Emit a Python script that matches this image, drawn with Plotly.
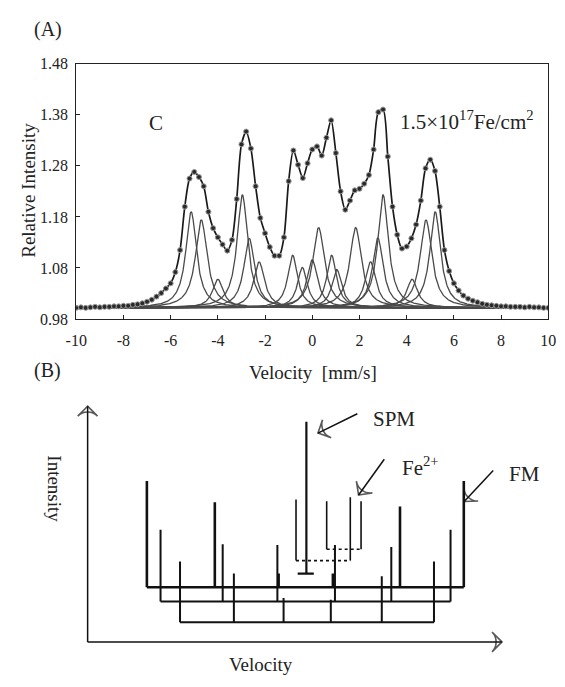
import numpy as np
import plotly.graph_objects as go

# ---------------- Panel (A) data ----------------
velocity = [round(-10 + 0.2 * i, 1) for i in range(101)]
rel_intensity = [
    1.002, 1.003, 1.002, 1.003, 1.004, 1.003, 1.004, 1.004, 1.005, 1.005,   # -10.0 .. -8.2
    1.006, 1.006, 1.008, 1.009, 1.011, 1.014, 1.018, 1.024, 1.031, 1.040,   # -8.0 .. -6.2
    1.050, 1.072, 1.115, 1.200, 1.255, 1.268, 1.258, 1.240, 1.190, 1.158,   # -6.0 .. -4.2
    1.140, 1.126, 1.114, 1.135, 1.215, 1.322, 1.347, 1.314, 1.240, 1.178,   # -4.0 .. -2.2
    1.148, 1.121, 1.104, 1.104, 1.140, 1.250, 1.310, 1.282, 1.256, 1.285,   # -2.0 .. -0.2
    1.312, 1.318, 1.300, 1.335, 1.369, 1.305, 1.230, 1.194, 1.212, 1.232,   # 0.0 .. 1.8
    1.235, 1.245, 1.262, 1.312, 1.385, 1.390, 1.298, 1.200, 1.145, 1.118,   # 2.0 .. 3.8
    1.122, 1.138, 1.165, 1.212, 1.275, 1.292, 1.270, 1.200, 1.115, 1.074,   # 4.0 .. 5.8
    1.050, 1.036, 1.026, 1.020, 1.016, 1.013, 1.010, 1.008, 1.007, 1.006,   # 6.0 .. 7.8
    1.005, 1.005, 1.004, 1.004, 1.004, 1.003, 1.004, 1.003, 1.003, 1.002,   # 8.0 .. 9.8
    1.002,                                                                  # 10.0
]

# Lorentzian sub-spectra: centre, height above baseline, FWHM
comp_center = [-5.13, -4.70, -4.00, -2.96, -2.67, -2.25, -0.83, -0.42, 0.00, 0.27,
               0.82, 1.04, 1.84, 2.47, 2.78, 3.00, 4.23, 4.82, 5.21]
comp_height = [0.188, 0.172, 0.056, 0.221, 0.136, 0.090, 0.103, 0.079, 0.094, 0.157,
               0.103, 0.075, 0.157, 0.090, 0.137, 0.221, 0.056, 0.172, 0.188]
comp_fwhm = [0.55, 0.60, 0.55, 0.55, 0.55, 0.55, 0.50, 0.50, 0.55, 0.60,
             0.50, 0.50, 0.60, 0.55, 0.55, 0.55, 0.55, 0.60, 0.55]
comp_baseline = 1.002

y_ticks = [0.98, 1.08, 1.18, 1.28, 1.38, 1.48]
x_ticks = [-10, -8, -6, -4, -2, 0, 2, 4, 6, 8, 10]

# ---------------- Panel (B) schematic data ----------------
# three ferromagnetic sextets: line positions, line tops, baseline level
fm_pos = [[14.3, 30.7, 46.1, 59.2, 75.4, 90.8],
          [17.6, 32.6, 45.8, 59.7, 73.3, 87.6],
          [22.3, 35.3, 47.3, 58.7, 71.0, 83.6]]
fm_top = [[68.3, 59.3, 29.0, 29.0, 57.5, 68.3],
          [47.6, 41.4, 41.1, 41.1, 40.3, 47.6],
          [34.1, 29.0, 18.6, 17.9, 27.9, 34.1]]
fm_base = [23.2, 17.1, 8.3]
fm_width = [2.6, 2.0, 2.0]
# Fe2+ doublets
dbl_pos = [[50.3, 63.4], [57.7, 66.0]]
dbl_top = [[60.4, 61.4], [59.7, 59.7]]
dbl_base = [34.5, 39.3]
# SPM singlet
spm_pos = 52.8
spm_top = 93.4
spm_base = 29.0
spm_bar = [50.7, 54.6]
# pointer arrows (tail -> head) and the two axis arrows of the schematic
arrow_tail_x = [65.1, 71.6, 97.9, 0, 0]
arrow_tail_y = [96.8, 77.5, 72.7, 0, 0]
arrow_head_x = [55.6, 65.4, 90.9, 0, 100]
arrow_head_y = [88.6, 62.3, 59.6, 100, 0]

fig = go.Figure()

# --- Panel A traces ---
vgrid = np.linspace(-10, 10, 1201)
for c, h, w in zip(comp_center, comp_height, comp_fwhm):
    hw = w / 2.0
    yv = comp_baseline + h / (1.0 + ((vgrid - c) / hw) ** 2)
    fig.add_trace(go.Scatter(x=vgrid, y=yv, mode="lines",
                             line=dict(color="#4a4a4a", width=1.3),
                             showlegend=False, hoverinfo="skip",
                             xaxis="x", yaxis="y"))

fig.add_trace(go.Scatter(x=velocity, y=rel_intensity, mode="lines",
                         line=dict(color="#1a1a1a", width=1.7, shape="spline", smoothing=0.8),
                         showlegend=False, xaxis="x", yaxis="y"))
fig.add_trace(go.Scatter(x=velocity, y=rel_intensity, mode="markers",
                         marker=dict(size=5, color="#2a2a2a",
                                     line=dict(color="#9a9a9a", width=1)),
                         showlegend=False, xaxis="x", yaxis="y"))

# --- Panel B traces ---
for pos, top, base, lw in zip(fm_pos, fm_top, fm_base, fm_width):
    xs, ys = [], []
    for p, t in zip(pos, top):
        xs += [p, p, None]
        ys += [base, t, None]
    xs += [pos[0], pos[-1]]
    ys += [base, base]
    fig.add_trace(go.Scatter(x=xs, y=ys, mode="lines",
                             line=dict(color="#111111", width=lw),
                             showlegend=False, hoverinfo="skip",
                             xaxis="x2", yaxis="y2"))

for pos, top, base in zip(dbl_pos, dbl_top, dbl_base):
    xs, ys = [], []
    for p, t in zip(pos, top):
        xs += [p, p, None]
        ys += [base, t, None]
    fig.add_trace(go.Scatter(x=xs, y=ys, mode="lines",
                             line=dict(color="#111111", width=1.6),
                             showlegend=False, hoverinfo="skip",
                             xaxis="x2", yaxis="y2"))
    fig.add_trace(go.Scatter(x=[pos[0], pos[1]], y=[base, base], mode="lines",
                             line=dict(color="#111111", width=1.6, dash="dot"),
                             showlegend=False, hoverinfo="skip",
                             xaxis="x2", yaxis="y2"))

fig.add_trace(go.Scatter(x=[spm_pos, spm_pos, None, spm_bar[0], spm_bar[1]],
                         y=[spm_base, spm_top, None, spm_base, spm_base],
                         mode="lines", line=dict(color="#111111", width=2.2),
                         showlegend=False, hoverinfo="skip",
                         xaxis="x2", yaxis="y2"))

for tx, ty, hx, hy in zip(arrow_tail_x, arrow_tail_y, arrow_head_x, arrow_head_y):
    fig.add_trace(go.Scatter(x=[tx, hx], y=[ty, hy], mode="lines+markers",
                             line=dict(color="#111111", width=1.5),
                             marker=dict(symbol="arrow-wide-open", size=[0, 14],
                                         angleref="previous", color="#111111",
                                         line=dict(color="#111111", width=1.6)),
                             cliponaxis=False, showlegend=False, hoverinfo="skip",
                             xaxis="x2", yaxis="y2"))

serif = "Liberation Serif, Times New Roman, serif"
W, H = 565.0, 687.0


def px(x):
    return x / W


def py(y):
    return 1 - y / H


def label(text, x, y, size, ref=("paper", "paper"), angle=0):
    return dict(text=text, x=x, y=y, xref=ref[0], yref=ref[1], showarrow=False,
                xanchor="center", yanchor="middle", textangle=angle,
                font=dict(size=size, family=serif, color="#222"))


annotations = [
    label("(A)", px(38), py(22), 20),
    label("(B)", px(38), py(372), 20),
    label("Relative Intensity", px(18), py(187), 19, angle=-90),
    label("Velocity  [mm/s]", px(312), py(374), 19),
    label("C", -6.62, 1.364, 21, ref=("x", "y")),
    label("1.5×10<sup>17</sup>Fe/cm<sup>2</sup>", 6.55, 1.368, 21, ref=("x", "y")),
    # panel B labels
    label("SPM", 73.9, 94.5, 21, ref=("x2", "y2")),
    label("Fe<sup>2+</sup>", 80.3, 74.5, 21, ref=("x2", "y2")),
    label("FM", px(531), py(478), 21),
    label("Intensity", px(45), py(493), 19, angle=90),
    label("Velocity", px(259), py(673), 19),
]

# schematic axes: 0..100 spans x 79.3..508 px and y 650..408.3 px; pad by 5 units
bx0, bx1 = 79.3, 508.0
by0, by1 = 650.0, 408.3
ux = (bx1 - bx0) / 100.0
uy = (by0 - by1) / 100.0

fig.update_layout(
    width=565, height=687,
    margin=dict(l=0, r=0, t=0, b=0),
    paper_bgcolor="white", plot_bgcolor="white",
    font=dict(family=serif, color="#222"),
    showlegend=False,
    xaxis=dict(domain=[px(67.5), px(556)], range=[-10, 10],
               tickvals=x_ticks, ticktext=[str(v) for v in x_ticks],
               ticks="inside", ticklen=4, tickcolor="#222", tickwidth=1,
               showline=True, linecolor="#222", linewidth=1.3, mirror=True,
               showgrid=False, zeroline=False, ticklabelstandoff=7,
               tickfont=dict(size=16, family=serif, color="#222"), anchor="y"),
    yaxis=dict(domain=[py(319), py(57)], range=[0.98, 1.48],
               tickvals=y_ticks, ticktext=[f"{v:.2f}" for v in y_ticks],
               ticks="inside", ticklen=4, tickcolor="#222", tickwidth=1,
               showline=True, linecolor="#222", linewidth=1.3, mirror=True,
               showgrid=False, zeroline=False, ticklabelstandoff=4,
               tickfont=dict(size=16, family=serif, color="#222"), anchor="x"),
    xaxis2=dict(domain=[px(bx0 - 5 * ux), px(bx1 + 5 * ux)], range=[-5, 105],
                visible=False, anchor="y2"),
    yaxis2=dict(domain=[py(by0 + 5 * uy), py(by1 - 5 * uy)], range=[-5, 105],
                visible=False, anchor="x2"),
    annotations=annotations,
)

fig.write_html("out.html", config={"displayModeBar": False})

# remove the browser's default page margin so the figure sits at the window origin
with open("out.html", "r", encoding="utf-8") as f:
    html = f.read()
html = html.replace("<body>", '<body style="margin:0;padding:0;overflow:hidden">', 1)
with open("out.html", "w", encoding="utf-8") as f:
    f.write(html)
